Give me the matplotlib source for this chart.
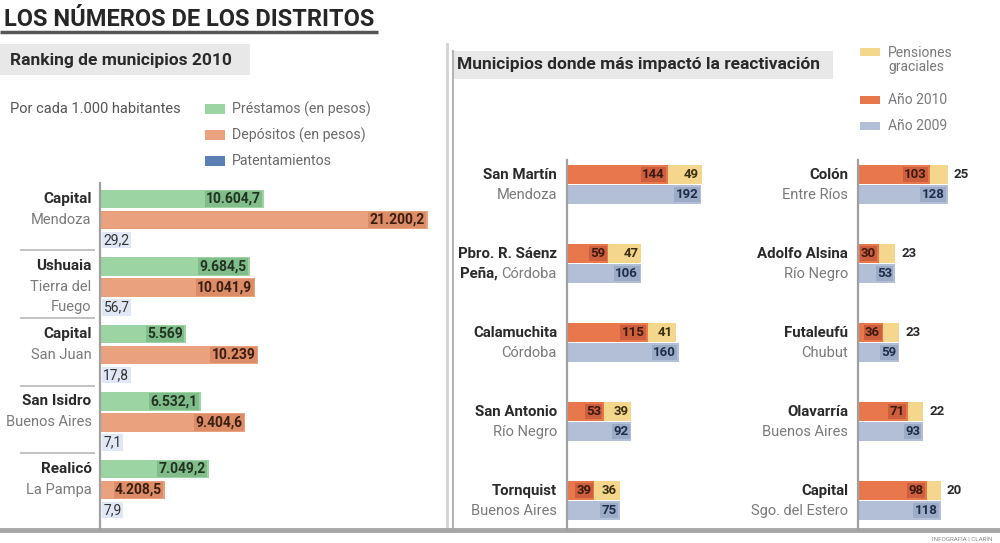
import numpy as np
import matplotlib.pyplot as plt
from matplotlib import font_manager

# fuente más estrecha que DejaVu si existe
names = {f.name for f in font_manager.fontManager.ttflist}
FONT = 'Roboto' if 'Roboto' in names else 'DejaVu Sans'
plt.rcParams['font.family'] = [FONT, 'DejaVu Sans']

# --- Ranking de municipios 2010 (por cada 1.000 habitantes) ---
rank_city = ['Capital', 'Ushuaia', 'Capital', 'San Isidro', 'Realicó']
rank_prov = ['Mendoza', 'Tierra del\nFuego', 'San Juan', 'Buenos Aires', 'La Pampa']
prestamos = [10604.7, 9684.5, 5569, 6532.1, 7049.2]
depositos = [21200.2, 10041.9, 10239, 9404.6, 4208.5]
patentamientos = [29.2, 56.7, 17.8, 7.1, 7.9]

# --- Municipios donde más impactó la reactivación ---
react_city_a = ['San Martín', 'Pbro. R. Sáenz\nPeña,', 'Calamuchita', 'San Antonio', 'Tornquist']
react_prov_a = ['Mendoza', 'Córdoba', 'Córdoba', 'Río Negro', 'Buenos Aires']
anio2010_a = [144, 59, 115, 53, 39]
pensiones_a = [49, 47, 41, 39, 36]
anio2009_a = [192, 106, 160, 92, 75]

react_city_b = ['Colón', 'Adolfo Alsina', 'Futaleufú', 'Olavarría', 'Capital']
react_prov_b = ['Entre Ríos', 'Río Negro', 'Chubut', 'Buenos Aires', 'Sgo. del Estero']
anio2010_b = [103, 30, 36, 71, 98]
pensiones_b = [25, 23, 23, 22, 20]
anio2009_b = [128, 53, 59, 93, 118]

GREEN, GREEN_D = '#9dd4a3', '#80bd8b'
SALMON, SALMON_D = '#eaa27e', '#dc8c66'
BLUE = '#5b7fb5'
RED, RED_D = '#e8774c', '#cd5e3e'
YELLOW = '#f4d68c'
STEEL, STEEL_D = '#b3bfd6', '#9cabc6'
DARK, GREY = '#2a2a2a', '#7a7a7a'

W, H = 1000, 543
fig = plt.figure(figsize=(W / 100, H / 100), dpi=100)


def px_axes(x0, y0, w, h):
    ax = fig.add_axes([x0 / W, 1 - (y0 + h) / H, w / W, h / H])
    ax.patch.set_visible(False)
    for s in ['top', 'right', 'bottom']:
        ax.spines[s].set_visible(False)
    ax.spines['left'].set_color('#a0a0a0')
    ax.spines['left'].set_linewidth(1.6)
    ax.set_xticks([])
    ax.set_yticks([])
    return ax


def fmt(v):
    if float(v).is_integer():
        return f'{int(v):,}'.replace(',', '.')
    s = f'{v:,.1f}'
    return s.replace(',', 'X').replace('.', ',').replace('X', '.')


# fondo: títulos, recuadros, líneas
bg = fig.add_axes([0, 0, 1, 1])
bg.set_xlim(0, W)
bg.set_ylim(H, 0)
bg.axis('off')
bg.text(4, 20, 'LOS NÚMEROS DE LOS DISTRITOS', fontsize=17, fontweight='bold',
        color='#262626', va='center', ha='left')
bg.plot([0, 378], [31.5, 31.5], color='#555555', lw=2.5, solid_capstyle='butt')
bg.add_patch(plt.Rectangle((0, 44), 250, 31, color='#e8e8e8', lw=0))
bg.text(10, 60, 'Ranking de municipios 2010', fontsize=12.5, fontweight='bold',
        color=DARK, va='center')
bg.add_patch(plt.Rectangle((453, 51), 380, 28, color='#e8e8e8', lw=0))
bg.text(457, 65, 'Municipios donde más impactó la reactivación', fontsize=12.5,
        fontweight='bold', color=DARK, va='center')
bg.plot([447, 447], [44, 530], color='#d2d2d2', lw=2)
bg.plot([453, 453], [51, 530], color='#b5b5b5', lw=1.5)
bg.plot([0, W], [530, 530], color='#a5a5a5', lw=3.5)
bg.text(992, 539, 'INFOGRAFÍA | CLARÍN', fontsize=4.5, color='#888888',
        ha='right', va='center')

# leyenda izquierda
bg.text(10, 109, 'Por cada 1.000 habitantes', fontsize=10.5, color='#555555', va='center')
for i, (c, lab) in enumerate([(GREEN, 'Préstamos (en pesos)'),
                              (SALMON, 'Depósitos (en pesos)'),
                              (BLUE, 'Patentamientos')]):
    y = 109 + i * 26
    bg.add_patch(plt.Rectangle((205, y - 5), 20, 10, color=c, lw=0))
    bg.text(232, y, lab, fontsize=10.2, color='#6a6a6a', va='center')

# leyenda derecha
legR = [(YELLOW, 'Pensiones\ngraciales', 52), (RED, 'Año 2010', 100), (STEEL, 'Año 2009', 126)]
for c, lab, y in legR:
    bg.add_patch(plt.Rectangle((860, y - 4), 20, 8, color=c, lw=0))
    bg.text(888, y + (8 if '\n' in lab else 0), lab, fontsize=10, color='#7a7a7a',
            va='center', linespacing=1.0)

# --- panel izquierdo ---
GROUP = 67.5
axL = px_axes(100, 183, 340, 347)
g = np.arange(len(rank_city))
hb = 0.28
off = [0.237, 0.548, 0.844]
axL.barh(g + off[0], prestamos, height=hb, color=GREEN)
axL.barh(g + off[1], depositos, height=hb, color=SALMON)
axL.barh(g + off[2], patentamientos, height=hb, color=BLUE)
axL.set_xlim(0, 22000)
axL.set_ylim(347 / GROUP, 0)

for i in g:
    axL.annotate(fmt(prestamos[i]), (prestamos[i], i + off[0]), xytext=(-3, 0),
                 textcoords='offset pixels', ha='right', va='center', fontsize=10,
                 fontweight='bold', color='#223322',
                 bbox=dict(boxstyle='square,pad=0.1', fc=GREEN_D, ec='none'))
    axL.annotate(fmt(depositos[i]), (depositos[i], i + off[1]), xytext=(-3, 0),
                 textcoords='offset pixels', ha='right', va='center', fontsize=10,
                 fontweight='bold', color='#3a1e10',
                 bbox=dict(boxstyle='square,pad=0.1', fc=SALMON_D, ec='none'))
    axL.annotate(fmt(patentamientos[i]), (patentamientos[i], i + off[2]), xytext=(3, 0),
                 textcoords='offset pixels', ha='left', va='center', fontsize=10,
                 color='#333333',
                 bbox=dict(boxstyle='square,pad=0.1', fc='#dfe8f4', ec='none'))
    tr = axL.get_yaxis_transform()
    axL.text(-0.025, i + off[0], rank_city[i], transform=tr, ha='right', va='center',
             fontsize=11, fontweight='bold', color=DARK)
    for k, line in enumerate(rank_prov[i].split('\n')):
        axL.text(-0.025, i + off[1 + k], line, transform=tr, ha='right', va='center',
                 fontsize=10.5, color=GREY)
# separadores entre grupos
axL.hlines(g[1:], -0.235, -0.015, transform=axL.get_yaxis_transform(),
           color='#b8b8b8', lw=1.2, clip_on=False)

# --- panel derecho ---
RGROUP = 79
fig.canvas.draw()
renderer = fig.canvas.get_renderer()


def react_panel(x0, city, prov, v10, pens, v09, pens_inside):
    ax = px_axes(x0, 160, 140, 370)
    gg = np.arange(len(city))
    h = 0.247
    yt, yb = gg + 0.184, gg + 0.437
    ax.barh(yt, v10, height=h, color=RED)
    ax.barh(yt, pens, left=v10, height=h, color=YELLOW)
    ax.barh(yb, v09, height=h, color=STEEL)
    ax.set_xlim(0, 200)
    ax.set_ylim(370 / RGROUP, 0)
    tr = ax.get_yaxis_transform()
    lx = -10 / 140
    for i in gg:
        ax.annotate(str(v10[i]), (v10[i], yt[i]), xytext=(-3, 0), textcoords='offset pixels',
                    ha='right', va='center', fontsize=9.5, fontweight='bold', color='#3a1a10',
                    bbox=dict(boxstyle='square,pad=0.1', fc=RED_D, ec='none'))
        end = v10[i] + pens[i]
        if pens_inside:
            ax.annotate(str(pens[i]), (end, yt[i]), xytext=(-3, 0), textcoords='offset pixels',
                        ha='right', va='center', fontsize=9.5, fontweight='bold', color='#3a3010')
        else:
            ax.annotate(str(pens[i]), (end, yt[i]), xytext=(6, 0), textcoords='offset pixels',
                        ha='left', va='center', fontsize=9.5, fontweight='bold', color='#2a2a2a')
        ax.annotate(str(v09[i]), (v09[i], yb[i]), xytext=(-3, 0), textcoords='offset pixels',
                    ha='right', va='center', fontsize=9.5, fontweight='bold', color='#1f2d4a',
                    bbox=dict(boxstyle='square,pad=0.1', fc=STEEL_D, ec='none'))
        lines = city[i].split('\n')
        ax.text(lx, yt[i], lines[0], transform=tr, ha='right', va='center',
                fontsize=10.8, fontweight='bold', color=DARK)
        pt = ax.text(lx, yb[i], prov[i], transform=tr, ha='right', va='center',
                     fontsize=10.5, color=GREY)
        if len(lines) > 1:
            bb = pt.get_window_extent(renderer=renderer)
            ax.annotate(lines[1] + ' ', (bb.x0, bb.y0 + bb.height / 2), xycoords='figure pixels',
                        ha='right', va='center', fontsize=10.8, fontweight='bold', color=DARK)
    return ax


react_panel(567, react_city_a, react_prov_a, anio2010_a, pensiones_a, anio2009_a, True)
react_panel(858, react_city_b, react_prov_b, anio2010_b, pensiones_b, anio2009_b, False)

fig.savefig('out.png', dpi=100)
